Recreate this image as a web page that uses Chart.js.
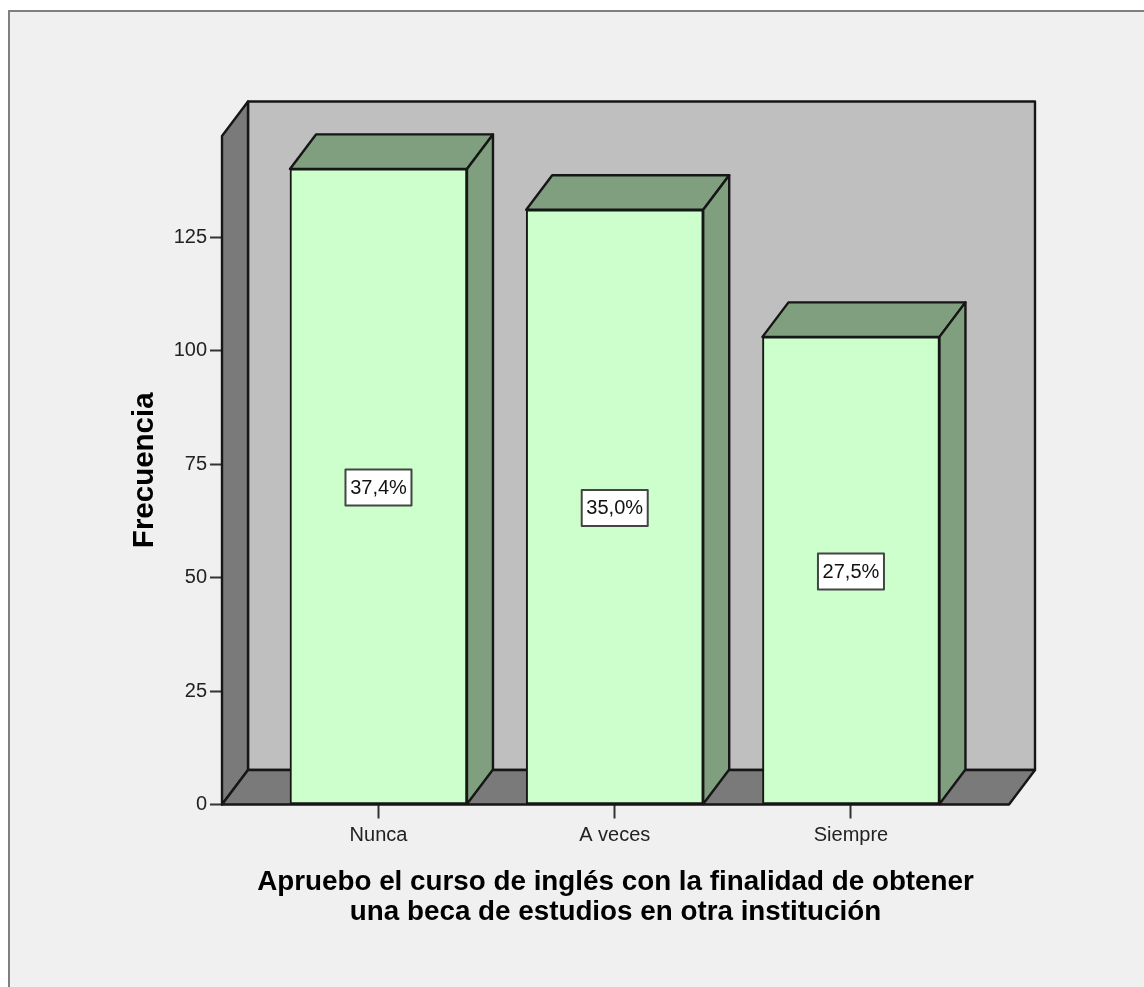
<!DOCTYPE html>
<html>
<head>
<meta charset="utf-8">
<style>
  html, body { margin: 0; padding: 0; background: #fff; }
  canvas { display: block; }
</style>
<script src="https://cdn.jsdelivr.net/npm/chart.js@4"></script>
</head>
<body>
<canvas id="myChart" width="1144" height="987"></canvas>
<script>
const categories = ['Nunca', 'A veces', 'Siempre'];
const frecuencia = [140, 131, 103];
const porcentajes = ['37,4%', '35,0%', '27,5%'];
const yTicks = [0, 25, 50, 75, 100, 125];
const yTitle = 'Frecuencia';
const xTitle = ['Apruebo el curso de inglés con la finalidad de obtener', 'una beca de estudios en otra institución'];

// profundidad del efecto 3D
const DX = 26;
const DY = -34.5;
const LINE = '#161616';
const FONT = '"Liberation Sans", Arial, sans-serif';

function poly(ctx, pts, fill) {
    ctx.beginPath();
    pts.forEach((p, i) => i ? ctx.lineTo(p[0], p[1]) : ctx.moveTo(p[0], p[1]));
    ctx.closePath();
    ctx.fillStyle = fill;
    ctx.fill();
    ctx.lineWidth = 2.4;
    ctx.lineJoin = 'round';
    ctx.strokeStyle = LINE;
    ctx.stroke();
}

const frame = {
    id: 'frame',
    beforeDraw(chart) {
        const { ctx, width, height } = chart;
        ctx.save();
        ctx.fillStyle = '#f0f0f0';
        ctx.fillRect(8, 10, width, height);
        ctx.fillStyle = '#7f7f7f';
        ctx.fillRect(8, 10, width, 2);
        ctx.fillRect(8, 10, 2, height);
        ctx.restore();
    }
};

const walls = {
    id: 'walls',
    beforeDatasetsDraw(chart) {
        const { ctx, chartArea: a } = chart;
        ctx.save();
        poly(ctx, [[a.left + DX, a.top + DY], [a.right + DX, a.top + DY], [a.right + DX, a.bottom + DY], [a.left + DX, a.bottom + DY]], '#bfbfbf');
        poly(ctx, [[a.left, a.top], [a.left + DX, a.top + DY], [a.left + DX, a.bottom + DY], [a.left, a.bottom]], '#7a7a7a');
        poly(ctx, [[a.left, a.bottom], [a.left + DX, a.bottom + DY], [a.right + DX, a.bottom + DY], [a.right, a.bottom]], '#7a7a7a');
        ctx.restore();
    }
};

const bars3d = {
    id: 'bars3d',
    afterDatasetsDraw(chart) {
        const { ctx } = chart;
        ctx.save();
        chart.getDatasetMeta(0).data.forEach((bar, i) => {
            const half = bar.width / 2;
            const l = bar.x - half, r = bar.x + half, t = bar.y, b = bar.base;
            poly(ctx, [[l, t], [l + DX, t + DY], [r + DX, t + DY], [r, t]], '#7f9f7f');
            poly(ctx, [[r, t], [r + DX, t + DY], [r + DX, b + DY], [r, b]], '#7f9f7f');

            // etiqueta de porcentaje
            const cy = (t + b) / 2 + 1;
            ctx.fillStyle = '#fff';
            ctx.strokeStyle = '#444';
            ctx.lineWidth = 2;
            ctx.fillRect(bar.x - 33, cy - 18, 66, 36);
            ctx.strokeRect(bar.x - 33, cy - 18, 66, 36);
            ctx.fillStyle = '#111';
            ctx.font = '20px ' + FONT;
            ctx.textAlign = 'center';
            ctx.textBaseline = 'middle';
            ctx.fillText(porcentajes[i], bar.x, cy + 1);
        });
        ctx.restore();
    }
};

new Chart(document.getElementById('myChart'), {
    type: 'bar',
    data: {
        datasets: [{
            data: frecuencia.map((v, i) => ({ x: i, y: v })),
            backgroundColor: '#ccffcc',
            borderColor: LINE,
            borderWidth: 2,
            borderSkipped: false,
            barThickness: 177
        }]
    },
    plugins: [frame, walls, bars3d],
    options: {
        responsive: false,
        animation: false,
        layout: { padding: { top: 136, right: 135, left: 0, bottom: 0 } },
        plugins: {
            legend: { display: false },
            tooltip: { enabled: false }
        },
        scales: {
            x: {
                type: 'linear',
                offset: false,
                min: -0.6624,
                max: 2.669,
                afterFit: (scale) => { scale.height = 182.5; },
                afterBuildTicks: (scale) => { scale.ticks = categories.map((c, i) => ({ value: i })); },
                border: { display: false },
                grid: { offset: false, drawOnChartArea: false, tickLength: 14, tickColor: '#333', tickWidth: 2 },
                ticks: {
                    autoSkip: false,
                    maxRotation: 0,
                    padding: 5,
                    color: '#222',
                    font: { family: FONT, size: 20 },
                    callback: (v) => categories[v]
                },
                title: {
                    display: true,
                    text: xTitle,
                    color: '#000',
                    font: { family: FONT, size: 27.8, weight: 'bold', lineHeight: '30px' },
                    padding: { top: 0, bottom: 60 }
                }
            },
            y: {
                min: 0,
                max: 147.25,
                afterFit: (scale) => { scale.width = 222; },
                afterBuildTicks: (scale) => { scale.ticks = yTicks.map((v) => ({ value: v })); },
                border: { display: false },
                grid: { drawOnChartArea: false, tickLength: 12, tickColor: '#333', tickWidth: 2 },
                ticks: {
                    padding: 3,
                    color: '#222',
                    font: { family: FONT, size: 20 }
                },
                title: {
                    display: true,
                    text: yTitle,
                    color: '#000',
                    font: { family: FONT, size: 29.5, weight: 'bold', lineHeight: '30px' },
                    padding: { top: 130, bottom: 0 }
                }
            }
        }
    }
});
</script>
</body>
</html>
